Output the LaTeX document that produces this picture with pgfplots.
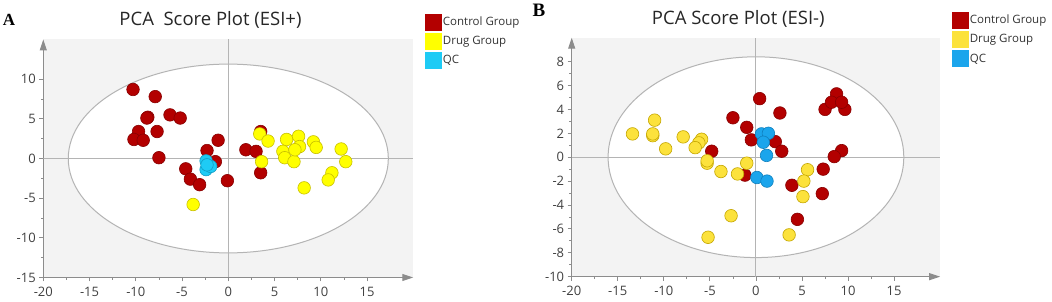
\documentclass[border=0pt]{standalone}
\usepackage{fontspec}
\setmainfont{Open Sans}
\newfontfamily\tnr{Liberation Serif}
\usepackage{pgfplots}
\pgfplotsset{compat=1.18}
\usetikzlibrary{arrows.meta}
\definecolor{ctrl}{HTML}{B30000}
\definecolor{ctrlE}{HTML}{880000}
\definecolor{drugA}{HTML}{FFFF00}
\definecolor{drugAE}{HTML}{C8C000}
\definecolor{drugB}{HTML}{FCE23C}
\definecolor{drugBE}{HTML}{C4A600}
\definecolor{qcA}{HTML}{1ECBF5}
\definecolor{qcAE}{HTML}{119CC4}
\definecolor{qcB}{HTML}{1BA5EC}
\definecolor{qcBE}{HTML}{0F80BE}
\definecolor{axgray}{HTML}{8C8C8C}
\definecolor{bggray}{HTML}{F3F3F3}
\definecolor{elgray}{HTML}{B4B4B4}
\pgfplotsset{
  pcastyle/.style={
    scale only axis,
    anchor=south west,
    axis lines=left,
    axis line style={axgray, line width=1pt},
    every outer x axis line/.append style={-{Triangle[length=11pt,width=7pt]}},
    every outer y axis line/.append style={-{Triangle[length=11pt,width=7pt]}},
    axis background/.style={fill=bggray},
    tick align=outside,
    major tick length=4pt,
    minor tick length=2.5pt,
    minor tick num=1,
    every tick/.style={axgray, line width=0.8pt},
    tick label style={font=\fontsize{13}{15}\selectfont, text=black!75},
    xticklabel style={yshift=-2pt},
    xtick={-20,-15,-10,-5,0,5,10,15},
    xticklabels={-20,-15,-10,-5,0,5,10,15},
    xmin=-20, xmax=20,
    legend style={draw=none, fill=none, inner sep=0pt, row sep=3pt,
      font=\fontsize{11.5}{13}\selectfont, text=black!80,
      at={(1.032,1.11)}, anchor=north west,
      nodes={inner sep=1.2pt, anchor=west}},
    legend cell align=left,
  },
  pts/.style n args={2}{only marks, mark=*, mark size=6.3pt,
    mark options={fill=#1, draw=#2, line width=0.6pt}},
}
\newcommand{\sq}[1]{\addlegendimage{legend image code/.code={\fill[#1] (0pt,-8pt) rectangle (16pt,8pt);}}}
\begin{document}
\begin{tikzpicture}
% ---------------- Panel A ----------------
\begin{axis}[pcastyle, at={(43.3pt,24.5pt)}, width=370pt, height=238pt,
  ymin=-15, ymax=15,
  ytick={-15,-10,-5,0,5,10},
  yticklabels={-15,-10,-5,0,5,10},
]
\sq{ctrl}\addlegendentry{Control Group}
\sq{drugA}\addlegendentry{Drug Group}
\sq{qcA}\addlegendentry{QC}
\draw[elgray, line width=1pt, fill=white] (axis cs:0,0) ellipse [x radius=17.3, y radius=11.9];
\draw[elgray, line width=1pt] (axis cs:-20,0) -- (axis cs:20,0);
\draw[elgray, line width=1pt] (axis cs:0,-15) -- (axis cs:0,15);
\addplot[pts={ctrl}{ctrlE}] coordinates {
(-10.3,8.7) (-7.9,7.8) (-8.7,5.2) (-8.8,5.1) (-6.3,5.5) (-5.2,5.1)
(-9.7,3.4) (-10.2,2.4) (-9.2,2.3) (-7.7,3.4) (-7.5,0.1)
(-1.1,2.3) (-2.3,1.0) (-1.4,-0.4) (-4.6,-1.3) (-4.1,-2.6) (-3.1,-3.3) (-0.1,-2.8)
(1.9,1.1) (3.0,0.9) (3.5,-1.8) (3.5,3.4)
};
\addplot[pts={drugA}{drugAE}] coordinates {
(-3.8,-5.8) (3.4,3.1) (4.3,2.2) (6.3,2.4) (7.6,2.8) (7.7,1.5) (5.9,0.9)
(6.1,0.1) (7.1,-0.4) (7.2,1.1) (9.2,2.1) (9.5,1.4) (12.2,1.2) (12.7,-0.4)
(11.2,-1.8) (10.8,-2.7) (8.2,-3.7) (3.6,-0.4)
};
\addplot[pts={qcA}{qcAE}] coordinates {
(-2.4,-0.3) (-2.4,-1.4) (-1.9,-1.0) (-2.3,-0.8)
};
\end{axis}
% ---------------- Panel B ----------------
\begin{axis}[pcastyle, at={(571.7pt,25.3pt)}, width=368.5pt, height=239pt,
  ymin=-10, ymax=10,
  ytick={-10,-8,-6,-4,-2,0,2,4,6,8},
  yticklabels={-10,-8,-6,-4,-2,0,2,4,6,8},
]
\sq{ctrl}\addlegendentry{Control Group}
\sq{drugB}\addlegendentry{Drug Group}
\sq{qcB}\addlegendentry{QC}
\draw[elgray, line width=1pt, fill=white] (axis cs:0,0) ellipse [x radius=16.05, y radius=8.4];
\draw[elgray, line width=1pt] (axis cs:-20,0) -- (axis cs:20,0);
\draw[elgray, line width=1pt] (axis cs:0,-10) -- (axis cs:0,10);
\addplot[pts={ctrl}{ctrlE}] coordinates {
(-4.8,0.5) (-2.5,3.3) (-1.0,2.5) (-0.5,1.45) (-1.2,-1.5)
(0.4,4.9) (2.6,3.7) (2.1,1.3) (2.8,0.5)
(8.75,5.3) (7.5,4.0) (9.65,4.0) (8.2,4.6) (9.3,4.6)
(9.3,0.55) (8.5,0.05) (7.3,-1.0) (7.2,-3.05) (3.9,-2.35) (4.5,-5.2)
};
\addplot[pts={drugB}{drugBE}] coordinates {
(-13.4,1.95) (-11.0,3.1) (-11.2,1.8) (-11.2,1.95) (-9.8,0.7) (-7.9,1.7)
(-5.9,1.5) (-6.2,1.2) (-6.6,0.8) (-5.3,-0.5) (-5.3,-0.3) (-3.8,-1.2) (-2.0,-1.4)
(-1.0,-0.5) (-2.7,-4.9) (-5.2,-6.7)
(5.6,-1.05) (5.2,-2.0) (5.1,-3.3) (3.6,-6.5)
};
\addplot[pts={qcB}{qcBE}] coordinates {
(0.6,1.95) (1.35,2.0) (0.8,1.25) (1.15,0.15) (0.1,-1.7) (1.2,-2.0)
};
\end{axis}
\node[font=\fontsize{18.5}{22}\selectfont, text=black!85] at (210.5pt,281.7pt) {PCA\ \ Score Plot (ESI+)};
\node[font=\fontsize{18.5}{22}\selectfont, text=black!85] at (738.3pt,283pt) {PCA Score Plot (ESI-)};
\node[font=\tnr\bfseries\fontsize{17}{20}\selectfont] at (9pt,282.5pt) {A};
\node[font=\tnr\bfseries\fontsize{19}{22}\selectfont] at (539pt,292pt) {B};
\pgfresetboundingbox
\path[use as bounding box] (0,0) rectangle (1052pt,302pt);
\end{tikzpicture}
\end{document}
